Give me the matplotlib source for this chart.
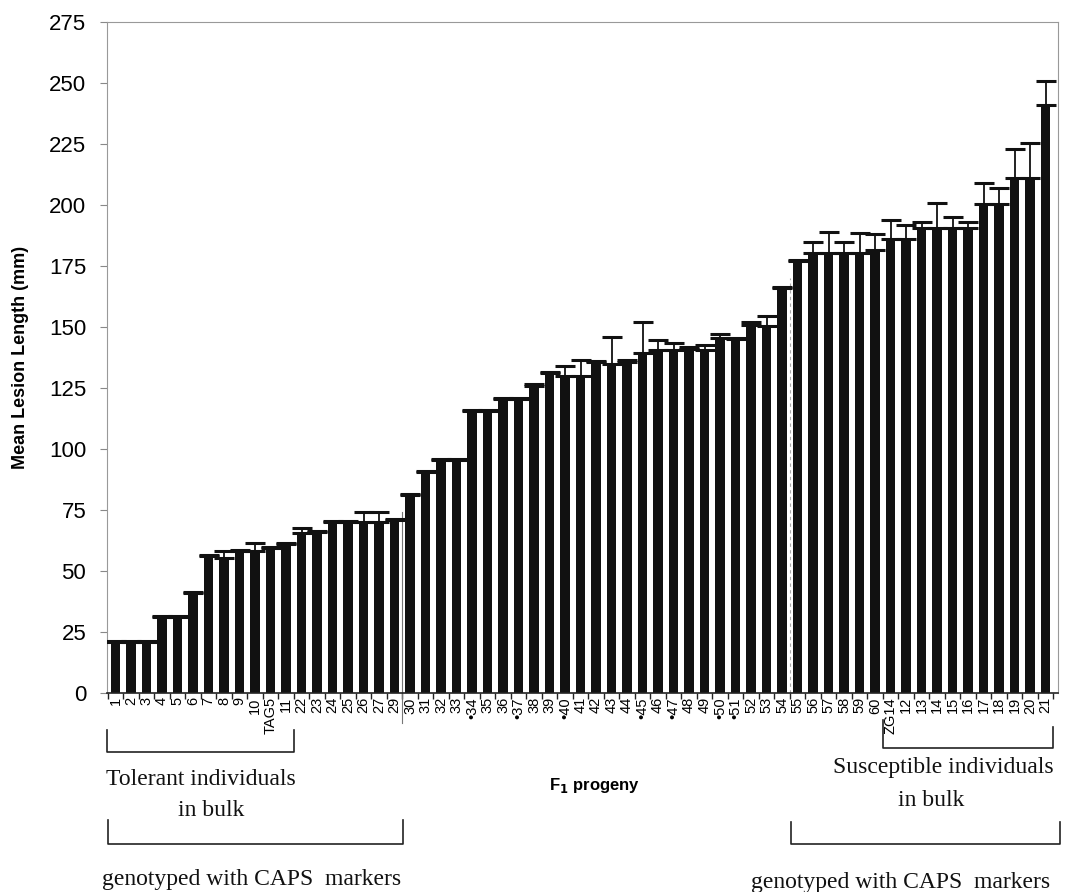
import numpy as np
import matplotlib.pyplot as plt
import matplotlib.transforms as mtransforms

plt.rcParams['font.family'] = ['Liberation Sans', 'DejaVu Sans']

# F1 progeny, sorted by mean lesion length
labels = ['1', '2', '3', '4', '5', '6', '7', '8', '9', '10', 'TAG5', '11',
          '22', '23', '24', '25', '26', '27', '29',
          '30', '31', '32', '33', '•34', '35', '36', '•37', '38', '39', '•40',
          '41', '42', '43', '44', '•45', '46', '•47', '48', '49', '•50', '•51',
          '52', '53', '54',
          '55', '56', '57', '58', '59', '60',
          'ZG14', '12', '13', '14', '15', '16', '17', '18', '19', '20', '21']

means = [21, 21, 21, 31, 31, 41, 56, 55.5, 58, 58, 59.5, 61,
         65.5, 66, 70, 70, 70, 70, 71,
         81, 90.5, 95.5, 95.5, 115.5, 115.5, 120.5, 120.5, 126, 131, 130,
         130, 135.5, 135, 135.5, 139.5, 140.5, 140.5, 141, 140.5, 145.5, 145,
         151, 150.5, 166,
         177, 180.5, 180.5, 180.5, 180.5, 181.5,
         186, 186, 190.5, 190.5, 190.5, 190.5, 200.5, 200.5, 211, 211, 241]

errors = [0.5, 0.5, 0.5, 0.5, 0.5, 0.5, 0.5, 2.5, 0.8, 3.5, 0.5, 0.5,
          2, 0.5, 0.5, 0.5, 4, 4, 0.5,
          0.5, 0.5, 0.5, 0.5, 0.5, 0.5, 0.5, 0.5, 0.5, 0.5, 4,
          6.5, 0.5, 11, 1, 12.5, 4, 3, 1, 2, 1.5, 0.5,
          1, 4, 0.5,
          0.5, 4.5, 8.5, 4.5, 8, 6.5,
          8, 6, 2.5, 10.5, 4.5, 2.5, 8.5, 6.5, 12, 14.5, 10]

yticks = list(range(0, 276, 25))

fig = plt.figure(figsize=(10.66, 8.92), dpi=100)
ax = fig.add_axes([0.1004, 0.2231, 0.8921, 0.7522])

x = np.arange(len(labels))
ax.bar(x, means, width=0.62, color='#111111', zorder=2)
ax.errorbar(x, means, yerr=[np.zeros(len(errors)), errors], fmt='none',
            ecolor='#111111', elinewidth=1.3, capsize=7, capthick=2.2, zorder=3)

ax.set_xlim(-0.55, 60.8)
ax.set_ylim(0, 275)
ax.set_yticks(yticks)
ax.tick_params(axis='y', labelsize=16, length=5, color='#888888', pad=10)

ax.set_xticks(x)
ax.set_xticklabels(labels, rotation=90, fontsize=10.5)
ax.tick_params(axis='x', length=0, pad=3)
ax.set_xticks(np.arange(-0.5, len(labels), 1), minor=True)
ax.tick_params(axis='x', which='minor', length=4, width=1, color='#222222')

for side in ['left', 'top', 'right']:
    ax.spines[side].set_color('#999999')
ax.spines['bottom'].set_color('#222222')
ax.spines['bottom'].set_linewidth(1.2)

ax.set_ylabel('Mean Lesion Length (mm)', fontsize=13, fontweight='bold',
              labelpad=14)

# faint divider lines from the scan
ax.plot([18.5, 18.5], [0, 74], color='#777777', lw=0.8, zorder=1)
ax.plot([43.5, 43.5], [0, 170], color='#aaaaaa', lw=0.8, ls=(0, (3, 3)),
        zorder=1)

# brackets and annotations below the axis
trans = mtransforms.blended_transform_factory(ax.transData, fig.transFigure)


def bracket(x0, x1, ytop0, ytop1, ybot):
    ax.plot([x0, x0, x1, x1], [ytop0, ybot, ybot, ytop1], color='#222222',
            lw=1.2, transform=trans, clip_on=False)


bracket(-0.58, 11.5, 0.1816, 0.1816, 0.1570)
bracket(-0.5, 18.55, 0.0807, 0.0807, 0.0538)
bracket(49.5, 60.45, 0.1928, 0.185, 0.1614)
bracket(43.6, 60.9, 0.0785, 0.0785, 0.0538)
ax.plot([18.5, 18.5], [0.2231, 0.19], color='#777777', lw=0.8,
        transform=trans, clip_on=False)

serif = dict(family='Liberation Serif', fontsize=17, color='#111111',
             transform=trans, va='center')
ax.text(-0.6, 0.1256, 'Tolerant individuals', ha='left', **serif)
ax.text(6.2, 0.0919, 'in bulk', ha='center', **serif)
ax.text(-0.85, 0.0135, 'genotyped with CAPS  markers', ha='left', **serif)
ax.text(60.5, 0.140, 'Susceptible individuals', ha='right', **serif)
ax.text(52.6, 0.103, 'in bulk', ha='center', **serif)
ax.text(60.3, 0.011, 'genotyped with CAPS  markers', ha='right', **serif)

ax.text(30.9, 0.119, r'F$_\mathbf{1}$ progeny', ha='center', va='center',
        fontsize=12, fontweight='bold', transform=trans)

fig.savefig('out.png', dpi=100)
